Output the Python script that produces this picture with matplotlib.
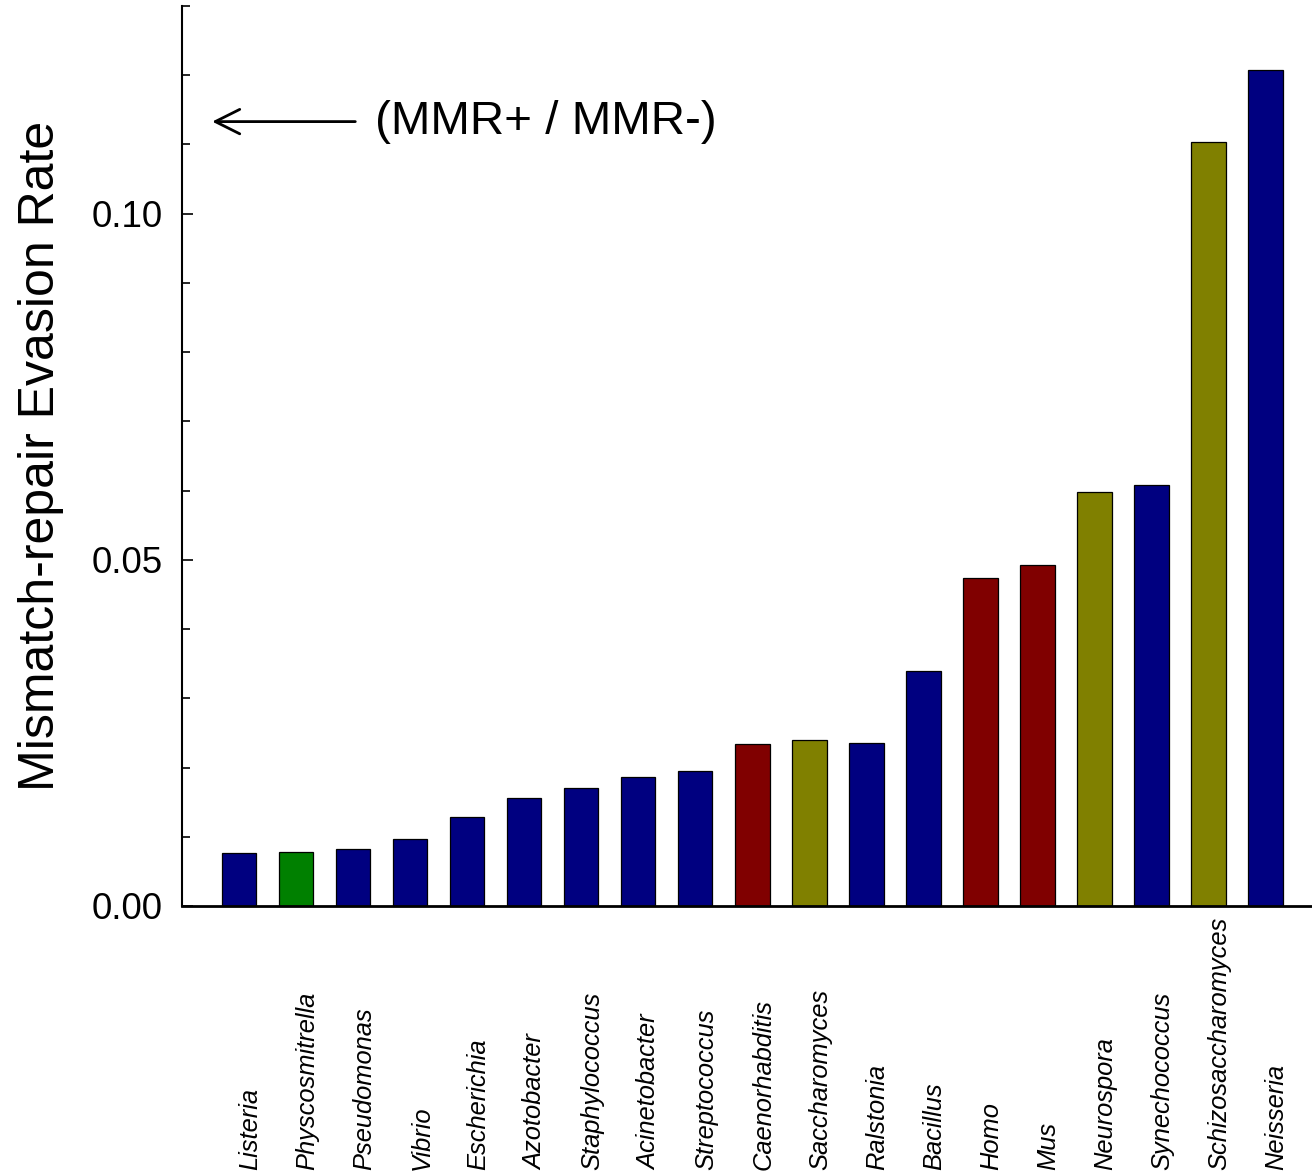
import matplotlib.pyplot as plt
import numpy as np
from matplotlib.ticker import MultipleLocator
from matplotlib.transforms import blended_transform_factory

plt.rcParams['font.family'] = ['Liberation Sans', 'DejaVu Sans']

# genera, sorted by evasion rate
genera = ['Listeria', 'Physcosmitrella', 'Pseudomonas', 'Vibrio', 'Escherichia',
          'Azotobacter', 'Staphylococcus', 'Acinetobacter', 'Streptococcus',
          'Caenorhabditis', 'Saccharomyces', 'Ralstonia', 'Bacillus', 'Homo',
          'Mus', 'Neurospora', 'Synechococcus', 'Schizosaccharomyces', 'Neisseria']
rates = [0.0077, 0.0078, 0.0082, 0.0097, 0.0129, 0.0156, 0.0171, 0.0186, 0.0195,
         0.0234, 0.0240, 0.0236, 0.0340, 0.0474, 0.0493, 0.0598, 0.0608, 0.1104, 0.1208]
# group: b = bacteria, p = plant, a = animal, f = fungi
groups = ['b', 'p', 'b', 'b', 'b', 'b', 'b', 'b', 'b',
          'a', 'f', 'b', 'b', 'a', 'a', 'f', 'b', 'f', 'b']
group_colors = {'b': '#000080', 'p': '#008000', 'a': '#800000', 'f': '#808000'}

x = np.arange(len(genera))
colors = [group_colors[g] for g in groups]

fig = plt.figure(figsize=(13.12, 11.74), dpi=100)
ax = fig.add_axes([0.1387, 0.2283, 0.8613, 0.7666])

ax.bar(x, rates, width=0.61, color=colors, edgecolor='black', linewidth=0.9)

ax.set_xlim(-1, 18.82)
ax.set_ylim(0, 0.13)
ax.spines['top'].set_visible(False)
ax.spines['right'].set_visible(False)
ax.spines['left'].set_linewidth(1.5)
ax.spines['bottom'].set_linewidth(2)

ax.set_xticks([])
ax.yaxis.set_major_locator(MultipleLocator(0.05))
ax.yaxis.set_minor_locator(MultipleLocator(0.01))
ax.set_yticks([0, 0.05, 0.10])
ax.set_yticklabels(['0.00', '0.05', '0.10'], fontsize=26.5)
ax.tick_params(axis='y', which='major', direction='in', length=8, width=1.2, pad=14)
ax.tick_params(axis='y', which='minor', direction='in', length=5.5, width=1.2)

ax.set_ylabel('Mismatch-repair Evasion Rate', fontsize=36, labelpad=20)

# genus names, italic, under the bars
trans = blended_transform_factory(ax.transData, ax.transAxes)
for xi, name in zip(x, genera):
    ax.text(xi + 0.2, -0.293, name, transform=trans, rotation=90,
            ha='center', va='bottom', fontsize=18.4, style='italic')

ax.annotate('', xy=(-0.47, 0.1133), xytext=(2.04, 0.1133),
            arrowprops=dict(arrowstyle='->', lw=2, color='black',
                            mutation_scale=44, shrinkA=0, shrinkB=0))
ax.text(2.38, 0.1133, '(MMR+ / MMR-)', fontsize=34.2, va='center', ha='left')

fig.savefig('out.png', dpi=100)
